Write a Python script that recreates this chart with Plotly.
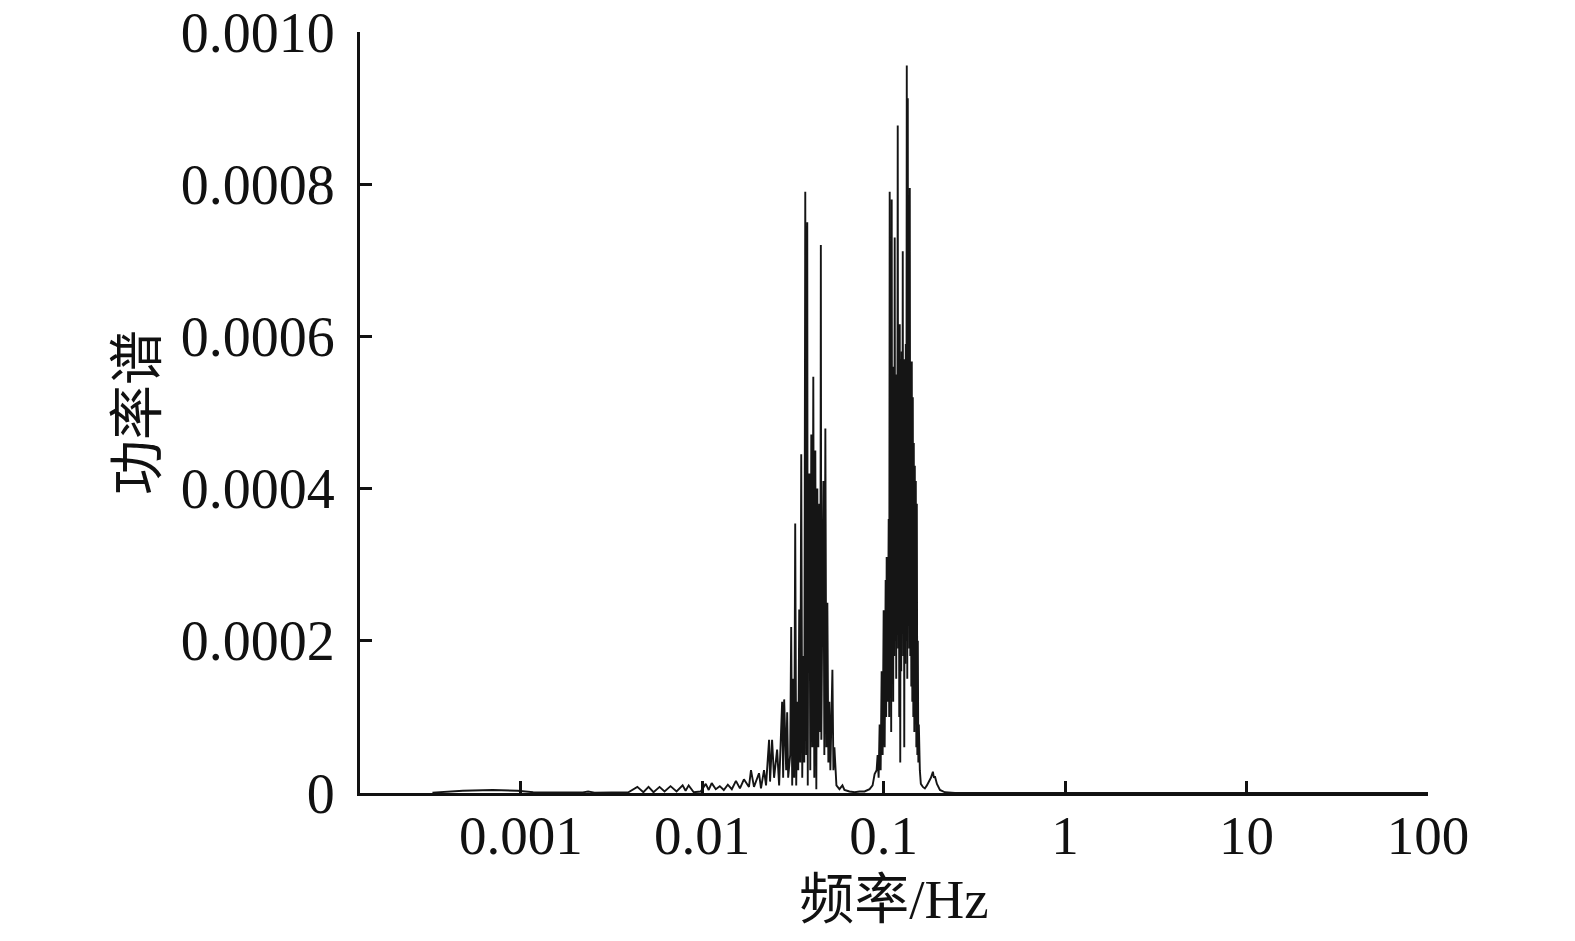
import plotly.graph_objects as go

# 频率 (Hz) 与功率谱值
freq_low = [0.000326, 0.00048, 0.00070, 0.00096, 0.00117, 0.00171, 0.00220, 0.00235,
            0.00255, 0.00392, 0.00439, 0.00474, 0.00506, 0.00539, 0.00582, 0.00620,
            0.00669, 0.00722, 0.00780, 0.00810, 0.00842, 0.00898, 0.00981, 0.01046,
            0.01086, 0.01128, 0.01188, 0.01250, 0.01315, 0.01384, 0.01456, 0.01534,
            0.01614, 0.01698, 0.01810, 0.01857, 0.01929, 0.02056]
power_low = [0.0000005, 0.000003, 0.000004, 0.000003, 0.000001, 0.0000005, 0.0000008, 0.000002,
             0.0000005, 0.000001, 0.000008, 0.000001, 0.000008, 0.000001, 0.000008, 0.000002,
             0.000009, 0.000002, 0.000010, 0.000003, 0.000010, 0.000001, 0.000002, 0.000012,
             0.000004, 0.000013, 0.000005, 0.000009, 0.000004, 0.000011, 0.000005, 0.000016,
             0.000006, 0.000018, 0.000008, 0.000030, 0.000008, 0.000026]

freq_peak1 = [0.02108, 0.02191, 0.02248, 0.02336, 0.02366, 0.02427, 0.02489, 0.02587,
              0.02654, 0.02757, 0.02793, 0.02829, 0.02902, 0.02939, 0.02977, 0.03054,
              0.03093, 0.03133, 0.03173, 0.03214, 0.03255, 0.03297, 0.03339, 0.03382,
              0.03425, 0.03469, 0.03514, 0.03559, 0.03605, 0.03651, 0.03698, 0.03745,
              0.03793, 0.03817, 0.03842, 0.03891, 0.03941, 0.03992, 0.04043, 0.04095,
              0.04147, 0.04201, 0.04255, 0.04309, 0.04364, 0.04420, 0.04477, 0.04506,
              0.04535, 0.04593, 0.04652, 0.04711, 0.04772, 0.04833, 0.04895, 0.04958,
              0.05022, 0.05086, 0.05218, 0.05285, 0.05352, 0.05491, 0.05705, 0.05927,
              0.06078, 0.06482, 0.06913, 0.07373]
power_peak1 = [0.000006, 0.00003, 0.00001, 0.00007, 0.000015, 0.00007, 0.00002, 0.000057,
               0.00001, 0.00012, 0.00002, 0.000123, 0.00003, 0.000106, 0.00002, 0.00005,
               0.000218, 0.00001, 0.00015, 0.00002, 0.000354, 0.00001, 0.00012, 0.00003,
               0.000241, 0.00004, 0.000445, 0.00002, 0.00018, 0.00004, 0.00079, 0.00005,
               0.00075, 0.00001, 0.0003, 0.00042, 0.00003, 0.000471, 0.00006, 0.000547,
               0.00002, 0.00045, 0.000005, 0.0004, 0.00006, 0.00038, 0.00008, 0.00072,
               0.00007, 0.00025, 0.00041, 0.00005, 0.000479, 0.00006, 0.00025, 0.00004,
               0.00012, 0.00003, 0.000162, 0.00003, 0.00006, 0.00001, 0.000005, 0.00001,
               0.000004, 0.000002, 0.000001, 0.000002]

freq_peak2 = [0.07848, 0.08365, 0.08691, 0.08915, 0.09146, 0.09263, 0.09382, 0.09503,
              0.09625, 0.09748, 0.09873, 0.10000, 0.10128, 0.10258, 0.10324, 0.10390,
              0.10524, 0.10659, 0.10727, 0.10795, 0.10865, 0.10934, 0.11004, 0.11074,
              0.11145, 0.11217, 0.11288, 0.11361, 0.11433, 0.11506, 0.11580, 0.11654,
              0.11729, 0.11804, 0.11879, 0.11955, 0.12032, 0.12109, 0.12186, 0.12264,
              0.12343, 0.12422, 0.12501, 0.12581, 0.12662, 0.12743, 0.12824, 0.12906,
              0.12989, 0.13072, 0.13155, 0.13240, 0.13324, 0.13410, 0.13495, 0.13582,
              0.13669, 0.13756, 0.13844, 0.13933, 0.14022, 0.14111, 0.14202, 0.14293,
              0.14384, 0.14476, 0.14569, 0.14662, 0.14756, 0.14850, 0.14945, 0.15041,
              0.15137, 0.15234, 0.15331, 0.15429, 0.15528, 0.15627, 0.15828, 0.16031,
              0.1645, 0.1687, 0.1731, 0.1775, 0.1821, 0.1868, 0.1892, 0.1916,
              0.1966, 0.2043, 0.2177, 0.2472, 0.5, 100.0]
power_peak2 = [0.000002, 0.000005, 0.00001, 0.000025, 0.00003, 0.00005, 0.00002, 0.00009,
               0.00003, 0.00016, 0.00005, 0.00024, 0.00006, 0.00028, 0.0001, 0.00031,
               0.00012, 0.00036, 0.0001, 0.00079, 0.00015, 0.00042, 0.00008, 0.00078,
               0.0002, 0.00046, 0.00012, 0.00056, 0.00018, 0.00073, 0.0002, 0.00052,
               0.00015, 0.00055, 0.00022, 0.000877, 0.00019, 0.00056, 0.0001, 0.000616,
               0.00004, 0.00057, 0.00016, 0.00058, 0.00021, 0.000712, 0.00018, 0.00056,
               0.00006, 0.00057, 0.00017, 0.00059, 0.0002, 0.000956, 0.00015, 0.000913,
               0.00022, 0.00058, 0.00019, 0.000795, 0.00018, 0.00056, 0.00014, 0.000567,
               0.00012, 0.00052, 0.0001, 0.00046, 0.00008, 0.00043, 0.00009, 0.00041,
               0.00006, 0.00038, 0.00005, 0.0002, 0.00004, 0.00009, 0.00003, 0.000012,
               0.000008, 0.000006, 0.00001, 0.000015, 0.00002, 0.000028, 0.00002, 0.000022,
               0.000012, 0.000004, 0.000001, 0.0, 0.0, 0.0]

x_ticks = [0.001, 0.01, 0.1, 1, 10, 100]
x_ticktext = ["0.001", "0.01", "0.1", "1", "10", "100"]
y_ticks = [0, 0.0002, 0.0004, 0.0006, 0.0008, 0.0010]
y_ticktext = ["0", "0.0002", "0.0004", "0.0006", "0.0008", "0.0010"]

FONT = "Liberation Serif, Times New Roman, Noto Sans CJK SC, serif"

freq = freq_low + freq_peak1 + freq_peak2
power = power_low + power_peak1 + power_peak2

fig = go.Figure()
fig.add_trace(go.Scatter(
    x=freq,
    y=power,
    mode="lines",
    line=dict(color="#151515", width=1.9),
    showlegend=False,
))

fig.update_layout(
    width=1575,
    height=941,
    paper_bgcolor="white",
    plot_bgcolor="white",
    margin=dict(l=360, r=147, t=32, b=148),
    font=dict(family=FONT, size=55, color="#111"),
)

fig.update_xaxes(
    type="log",
    range=[-3.886, 2.0],
    tickvals=x_ticks,
    ticktext=x_ticktext,
    ticks="inside",
    ticklen=12,
    tickwidth=3,
    tickcolor="#111",
    showline=True,
    linewidth=3,
    linecolor="#111",
    showgrid=False,
    zeroline=False,
    automargin=False,
    ticklabeloverflow="allow",
    ticklabelstandoff=-8,
    tickfont=dict(family=FONT, size=55),
    title=dict(text="频率/Hz", font=dict(family=FONT, size=55), standoff=15),
)

fig.update_yaxes(
    range=[0, 0.001],
    tickvals=y_ticks,
    ticktext=y_ticktext,
    ticks="inside",
    ticklen=12,
    tickwidth=3,
    tickcolor="#111",
    showline=True,
    linewidth=3,
    linecolor="#111",
    showgrid=False,
    zeroline=False,
    automargin=False,
    ticklabeloverflow="allow",
    ticklabelstandoff=11,
    tickfont=dict(family=FONT, size=56),
    title=dict(text="功率谱", font=dict(family=FONT, size=55), standoff=7),
)

fig.write_html(
    "out.html",
    config={"displayModeBar": False},
    post_script="document.body.style.margin = '0';",
)
